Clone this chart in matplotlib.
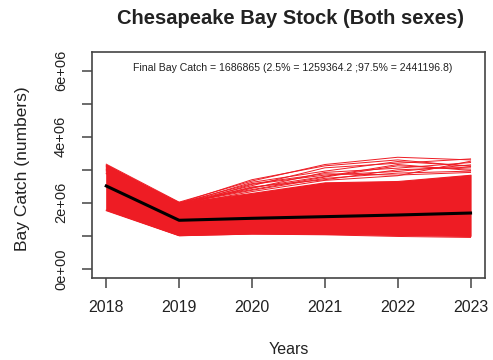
import numpy as np
import matplotlib.pyplot as plt

# Datos (capturas en la bahia, en numeros)
years = [2018, 2019, 2020, 2021, 2022, 2023]
median_catch = [2.51e6, 1.47e6, 1.53e6, 1.58e6, 1.63e6, 1.69e6]

# Zona densa de simulaciones (limites)
core_upper = [3.15e6, 2.00e6, 2.30e6, 2.62e6, 2.66e6, 2.85e6]
core_lower = [1.79e6, 1.02e6, 1.07e6, 1.06e6, 1.03e6, 1.00e6]

# Trayectorias sueltas por encima y por debajo de la zona densa (millones)
upper_runs = [
    [3.17, 2.02, 2.66, 3.16, 3.38, 3.30],
    [3.12, 1.99, 2.70, 3.12, 3.30, 3.10],
    [3.08, 1.98, 2.52, 3.06, 3.20, 3.33],
    [3.02, 1.96, 2.62, 2.96, 3.25, 3.12],
    [2.98, 1.94, 2.44, 2.92, 3.05, 3.22],
    [2.94, 2.01, 2.40, 2.78, 3.12, 3.02],
    [2.90, 1.90, 2.56, 2.84, 2.95, 3.15],
    [3.05, 1.97, 2.38, 2.74, 2.90, 2.96],
    [2.88, 1.95, 2.48, 2.70, 3.00, 3.08],
    [3.10, 1.99, 2.58, 2.88, 2.84, 2.92],
    [3.00, 1.93, 2.34, 2.68, 2.82, 3.26],
    [3.14, 1.96, 2.46, 2.80, 3.16, 2.98],
]
lower_runs = [
    [1.76, 1.00, 1.05, 1.03, 0.98, 0.95],
    [1.78, 1.01, 1.08, 1.05, 1.01, 0.98],
]

final_text = "Final Bay Catch = 1686865 (2.5% = 1259364.2 ;97.5% = 2441196.8)"

red = '#ee1c24'
plt.rcParams['font.family'] = ['Liberation Sans', 'DejaVu Sans']

fig = plt.figure(figsize=(4.93, 3.6), dpi=100)
ax = fig.add_axes([0.186, 0.2286, 0.798, 0.627])

ax.fill_between(years, core_lower, core_upper, color=red, lw=0.8, edgecolor=red)
for run in upper_runs + lower_runs:
    ax.plot(years, np.array(run) * 1e6, color=red, lw=0.7)
ax.plot(years, median_catch, color='black', lw=2.2)

ax.set_xlim(2017.8, 2023.2)
ax.set_ylim(-0.27e6, 6.57e6)
ax.set_xticks(years)
ax.set_xticklabels([str(y) for y in years])
ax.set_yticks(np.arange(0, 7e6, 1e6))
ax.set_yticklabels(['0e+00', '', '2e+06', '', '4e+06', '', '6e+06'],
                   rotation=90, va='center')

for s in ax.spines.values():
    s.set_color('#444444')
    s.set_linewidth(1.2)
ax.tick_params(axis='both', direction='out', length=7, width=1.1, color='#444444',
               labelcolor='#222222')
ax.tick_params(axis='x', labelsize=11.5, pad=9)
ax.tick_params(axis='y', labelsize=10.5, pad=10)

ax.text(0.512, 0.929, final_text, transform=ax.transAxes, ha='center', va='center',
        fontsize=7.6, color='#222222')

fig.text(0.59, 0.95, 'Chesapeake Bay Stock (Both sexes)', ha='center', va='center',
         fontsize=14.5, fontweight='bold', color='#222222')
fig.text(0.585, 0.028, 'Years', ha='center', va='center', fontsize=11.5, color='#222222')
fig.text(0.045, 0.531, 'Bay Catch (numbers)', ha='center', va='center', rotation=90,
         fontsize=12.5, color='#222222')

fig.savefig('out.png', dpi=100)
